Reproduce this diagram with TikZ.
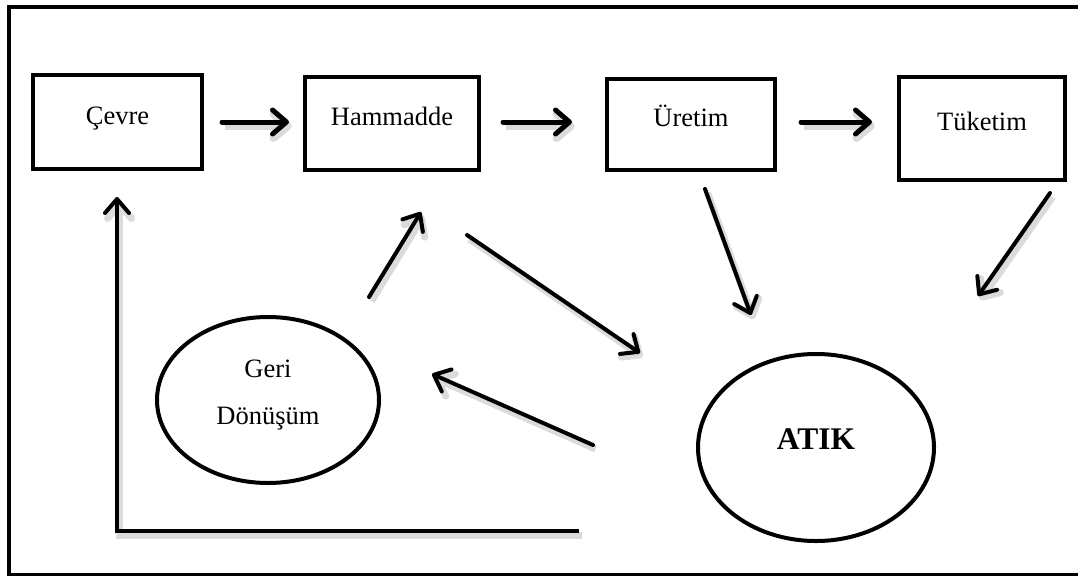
\documentclass[tikz,border=0pt]{standalone}
\usepackage{fontspec}
\setmainfont{Liberation Serif}
\usetikzlibrary{arrows.meta,shapes.geometric}
\begin{document}
\begin{tikzpicture}[x=1pt,y=-1pt,
  box/.style={draw, line width=4pt, rectangle, inner sep=0pt,
    text height=18pt, text depth=14pt, font=\fontsize{26.5}{30}\selectfont},
  oval/.style={draw, ellipse, line width=4pt, inner sep=0pt},
  shade/.style={preaction={draw=black!14, line width=#1, transform canvas={shift={(2.5pt,-4pt)}}}},
  flow/.style={line width=4pt, line cap=round, shade=7pt,
    -{Straight Barb[length=14pt,width=24pt,line cap=round,line join=round]}},
  flowthick/.style={flow, line width=5pt, shade=8pt},
]
\useasboundingbox (0,0) rectangle (1078,576);
% outer frame
\draw[line width=3.5pt] (1078,7) -- (9,7) -- (9,574.5) -- (1078,574.5);

% boxes
\node[box, minimum width=169pt, minimum height=94pt]  (cevre)   at (117.5,122) {Çevre};
\node[box, minimum width=174pt, minimum height=93pt]  (ham)     at (392,123.5) {Hammadde};
\node[box, minimum width=168pt, minimum height=91pt]  (uretim)  at (691,124.5) {Üretim};
\node[box, minimum width=166pt, minimum height=103pt] (tuketim) at (982,128.5) {Tüketim};

% ellipses
\node[oval, minimum width=222pt, minimum height=166pt, align=center,
      font=\fontsize{26.5}{47}\selectfont] (geri) at (268,400)
      {Geri\\Dönüşüm\rule[-15pt]{0pt}{1pt}};
\node[oval, minimum width=236pt, minimum height=187pt,
      font=\bfseries\fontsize{31.5}{36}\selectfont,
      text height=22pt, text depth=19pt] (atik) at (816,447.5) {ATIK};

% arrow end points
\coordinate (a1s) at (222,122); \coordinate (a1e) at (289,122);
\coordinate (a2s) at (503,122); \coordinate (a2e) at (572,122);
\coordinate (a3s) at (801,122); \coordinate (a3e) at (872,122);
\coordinate (lend) at (579,531); \coordinate (lcor) at (117,531); \coordinate (ltip) at (117,197);
\coordinate (g1s) at (369,297); \coordinate (g1e) at (421,212);
\coordinate (h1s) at (467,235); \coordinate (h1e) at (640,353);
\coordinate (u1s) at (705,189); \coordinate (u1e) at (751,315);
\coordinate (t1s) at (1050,193); \coordinate (t1e) at (978,296);
\coordinate (k1s) at (593,445); \coordinate (k1e) at (432,374);

% connectors
\draw[flowthick] (a1s) -- (a1e);
\draw[flowthick] (a2s) -- (a2e);
\draw[flowthick] (a3s) -- (a3e);
\draw[flow, line cap=butt, line join=miter] (lend) -- (lcor) -- (ltip);
\draw[flow] (g1s) -- (g1e);
\draw[flow] (h1s) -- (h1e);
\draw[flow] (u1s) -- (u1e);
\draw[flow] (t1s) -- (t1e);
\draw[flow] (k1s) -- (k1e);
\end{tikzpicture}
\end{document}
